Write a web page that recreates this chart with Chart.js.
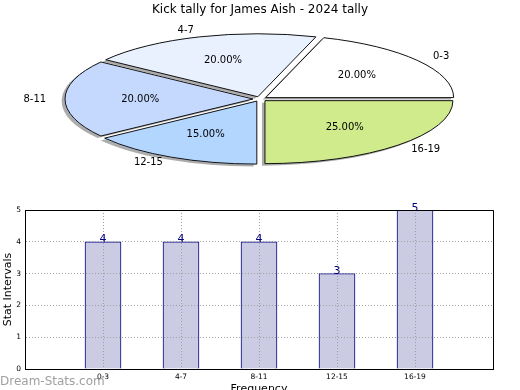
<!DOCTYPE html>
<html>
<head>
<meta charset="utf-8">
<script src="https://cdn.jsdelivr.net/npm/chart.js@4/dist/chart.umd.min.js"></script>
<style>
    html, body { margin: 0; padding: 0; background: #fff; }
    #wrap { position: relative; width: 520px; height: 390px; overflow: hidden; }
    #pie  { position: absolute; left: 0; top: 0; }
    #bars { position: absolute; left: 0; top: 195px; }
    .watermark {
        position: absolute; left: 0; top: 375px;
        font: 12px/12px "DejaVu Sans", sans-serif; color: #a0a0a0;
    }
</style>
</head>
<body>
<div id="wrap">
    <canvas id="pie" width="520" height="390"></canvas>
    <canvas id="bars" width="520" height="205"></canvas>
    <div class="watermark">Dream-Stats.com</div>
</div>
<script>
// ── Data ──
const categories = ['0-3', '4-7', '8-11', '12-15', '16-19'];
const counts     = [4, 4, 4, 3, 5];
const yTicks     = [0, 1, 2, 3, 4, 5];
const sliceColors = ['#ffffff', '#eaf1fe', '#c5d9fe', '#b3d6fe', '#cfeb8c'];

const titleText = 'Kick tally for James Aish - 2024 tally';
const FONT = '"DejaVu Sans", sans-serif';

// ── Pie squash (matplotlib draws it flattened) ──
const RX = 188;
const K  = 63 / 188;   // vertical squash
const EXPLODE = 7;     // px, before squash

const total = counts.reduce((a, b) => a + b, 0);

const squashPlugin = {
    id: 'squash',
    beforeDatasetsDraw(chart) {
        const el = chart.getDatasetMeta(0).data[0];
        const ctx = chart.ctx;
        ctx.save();
        ctx.translate(el.x, el.y);
        ctx.scale(1, -K);          // flip too, so slices run counter-clockwise
        ctx.translate(-el.x, -el.y);
        ctx.shadowColor   = 'rgba(70,70,70,0.45)';
        ctx.shadowOffsetX = -3;
        ctx.shadowOffsetY = 2;
        ctx.shadowBlur    = 0;
    },
    afterDatasetsDraw(chart) {
        const ctx = chart.ctx;
        ctx.restore();
        const arcs = chart.getDatasetMeta(0).data;

        // outlines, drawn unsquashed so the line stays 1px
        arcs.forEach(el => {
            const s = el.startAngle, e = el.endAngle, mid = (s + e) / 2;
            const off = (el.options.offset || 0) / 4;
            const ox = el.x + Math.cos(mid) * off;
            const oy = el.y - Math.sin(mid) * off * K;
            ctx.beginPath();
            ctx.moveTo(ox, oy);
            ctx.ellipse(ox, oy, el.outerRadius, el.outerRadius * K, 0, -s, -e, true);
            ctx.closePath();
            ctx.lineWidth = 1;
            ctx.strokeStyle = '#111';
            ctx.stroke();
        });

        // labels + percentages
        ctx.fillStyle = '#000';
        ctx.font = `10px ${FONT}`;
        ctx.textBaseline = 'middle';
        arcs.forEach((el, i) => {
            const mid = (el.startAngle + el.endAngle) / 2;
            const off = (el.options.offset || 0) / 4;
            const c = Math.cos(mid), sn = Math.sin(mid);
            const lr = off + el.outerRadius * 1.1;
            ctx.textAlign = c > 0 ? 'left' : 'right';
            ctx.fillText(categories[i], el.x + c * lr, el.y - sn * lr * K);
            const pr = off + el.outerRadius * 0.6;
            ctx.textAlign = 'center';
            ctx.fillText((counts[i] / total * 100).toFixed(2) + '%', el.x + c * pr, el.y - sn * pr * K);
        });
    },
};

new Chart(document.getElementById('pie'), {
    type: 'pie',
    data: {
        labels: categories,
        datasets: [{
            data: counts,
            backgroundColor: sliceColors,
            borderWidth: 0,
            offset: EXPLODE * 4,
            clip: false,
        }],
    },
    options: {
        responsive: false,
        animation: false,
        events: [],
        rotation: 90,
        radius: RX,
        layout: { padding: { top: 0, left: 0, right: 0, bottom: 209.4 } },
        plugins: {
            legend: { display: false },
            tooltip: { enabled: false },
            title: {
                display: true,
                text: titleText,
                color: '#000',
                font: { family: FONT, size: 12, weight: 'normal', lineHeight: 1.2 },
                padding: { top: 3, bottom: 0 },
            },
        },
    },
    plugins: [squashPlugin],
});

// ─────────────────────────────────────────────
//  BAR CHART
// ─────────────────────────────────────────────
const barLabels = ['', ...categories, ''];
const barValues = [null, ...counts, null];

const frameAndValues = {
    id: 'frameAndValues',
    afterDatasetsDraw(chart) {
        const ctx = chart.ctx;
        // grid sits on top of the bars, as in the original
        chart.scales.x.drawGrid(chart.chartArea);
        chart.scales.y.drawGrid(chart.chartArea);

        ctx.save();
        ctx.fillStyle = '#000080';
        ctx.font = `11px ${FONT}`;
        ctx.textAlign = 'center';
        ctx.textBaseline = 'alphabetic';
        chart.getDatasetMeta(0).data.forEach((el, i) => {
            if (barValues[i] == null) return;
            ctx.fillText(String(barValues[i]), el.x, el.y + 0.5);
        });
        ctx.restore();
    },
    afterDraw(chart) {
        const { ctx, chartArea: a } = chart;
        ctx.save();
        ctx.strokeStyle = '#000';
        ctx.lineWidth = 1;
        ctx.beginPath();
        ctx.moveTo(a.left, a.top + 0.5);
        ctx.lineTo(a.right + 0.5, a.top + 0.5);
        ctx.lineTo(a.right + 0.5, a.bottom);
        ctx.stroke();
        ctx.restore();
    },
};

const gridStyle = { color: '#a0a0a0', drawTicks: false };
const borderStyle = { color: '#000', width: 1, dash: [1, 2], z: 1 };

new Chart(document.getElementById('bars'), {
    type: 'bar',
    data: {
        labels: barLabels,
        datasets: [{
            data: barValues,
            backgroundColor: '#cbcbe3',
            borderColor: '#000080',
            borderWidth: 1,
            barThickness: 36,
        }],
    },
    options: {
        responsive: false,
        animation: false,
        events: [],
        layout: { padding: { top: 15, right: 27, left: 0, bottom: 0 } },
        plugins: { legend: { display: false }, tooltip: { enabled: false } },
        scales: {
            x: {
                offset: false,
                grid: { ...gridStyle, offset: false },
                border: borderStyle,
                ticks: { color: '#000', font: { family: FONT, size: 7.5 }, padding: 4, autoSkip: false, maxRotation: 0 },
                title: { display: true, text: 'Frequency', color: '#000', font: { family: FONT, size: 11 }, padding: { top: 0, bottom: 4 } },
                afterFit: s => { s.height = 31; },
            },
            y: {
                min: yTicks[0],
                max: yTicks[yTicks.length - 1],
                grid: gridStyle,
                border: borderStyle,
                ticks: { stepSize: 1, color: '#000', font: { family: FONT, size: 7.5 }, padding: 4 },
                title: { display: true, text: 'Stat Intervals', color: '#000', font: { family: FONT, size: 11 }, padding: { top: 2, bottom: 0 } },
                afterFit: s => { s.width = 25; },
            },
        },
    },
    plugins: [frameAndValues],
});
</script>
</body>
</html>
